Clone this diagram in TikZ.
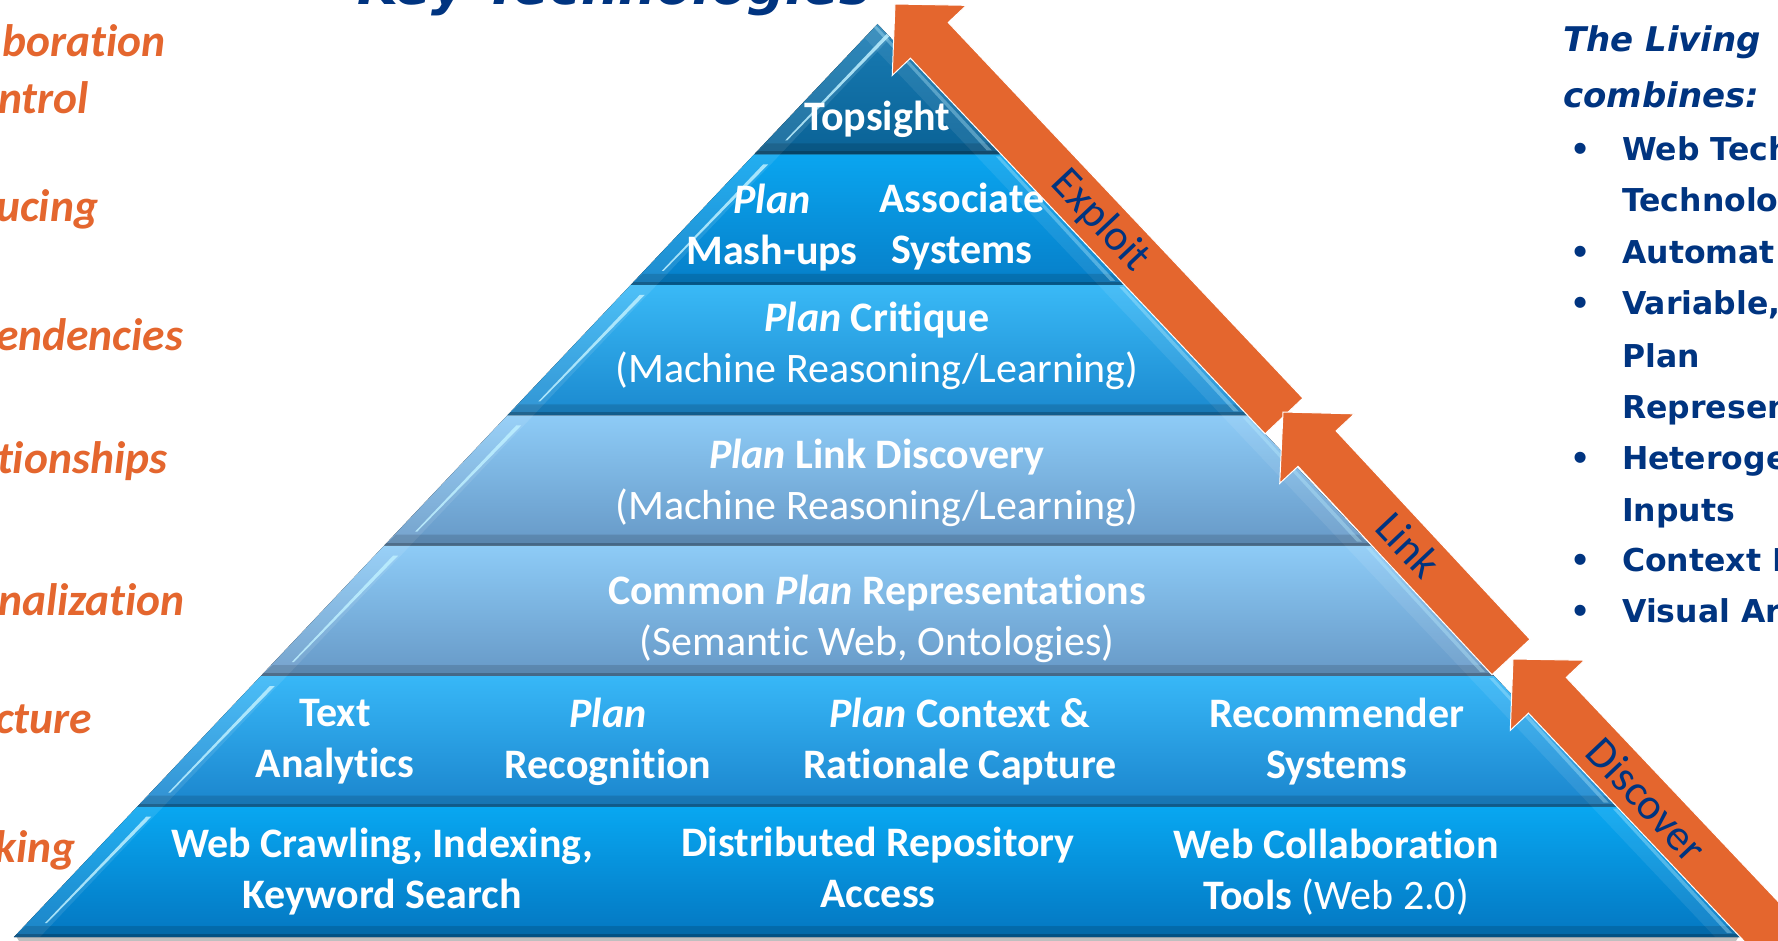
\documentclass[tikz,border=0pt]{standalone}
\usepackage{fontspec}
\setmainfont{Carlito}[Ligatures=NoCommon]
\newfontfamily\dvs{DejaVu Sans}[BoldFont={DejaVu Sans Bold},ItalicFont={DejaVu Sans Oblique},BoldItalicFont={DejaVu Sans Bold Oblique}]
\usetikzlibrary{calc}
\definecolor{orng}{RGB}{228,102,46}
\definecolor{navy}{RGB}{0,52,128}
\definecolor{hicyan}{RGB}{190,240,255}
\definecolor{cA}{RGB}{24,124,180}\definecolor{cAb}{RGB}{10,98,150}
\definecolor{cB}{RGB}{10,166,240}\definecolor{cBb}{RGB}{6,126,200}
\definecolor{cC}{RGB}{58,186,247}\definecolor{cCb}{RGB}{26,136,206}
\definecolor{cD}{RGB}{142,204,247}\definecolor{cDb}{RGB}{102,152,198}
\definecolor{cE}{RGB}{142,204,247}\definecolor{cEb}{RGB}{102,152,198}
\definecolor{cF}{RGB}{56,184,248}\definecolor{cFb}{RGB}{26,132,204}
\definecolor{cG}{RGB}{8,168,242}\definecolor{cGb}{RGB}{4,118,192}
\tikzset{
  orarrow/.style={fill=orng,draw=white,line width=1pt},
  ptext/.style={text=white,font=\fontsize{42}{51}\selectfont\bfseries,align=center,inner sep=0pt},
  atext/.style={text=navy,font=\fontsize{44}{50}\selectfont,rotate=-46.6,inner sep=0pt},
  ltext/.style={text=orng,font=\fontsize{45.5}{54}\selectfont\bfseries\itshape,anchor=base west,inner sep=0pt},
  rtext/.style={text=navy,font=\dvs\fontsize{31.5}{36}\selectfont\bfseries,anchor=base west,inner sep=0pt},
  rhead/.style={text=navy,font=\dvs\fontsize{34}{40}\selectfont\bfseries\itshape,anchor=base west,inner sep=0pt},
  ttext/.style={text=navy,font=\dvs\fontsize{53}{60}\selectfont\bfseries\itshape,anchor=base west,inner sep=0pt},
}
\newcommand\pyrband[3]{%
  \pgfmathsetmacro\yt{24+130.4286*#1}%
  \pgfmathsetmacro\yb{\yt+130.4286}%
  \pgfmathsetmacro\lt{877.5-0.9458*(\yt-24)}%
  \pgfmathsetmacro\rt{877.5+0.9458*(\yt-24)}%
  \pgfmathsetmacro\lb{877.5-0.9458*(\yb-24)}%
  \pgfmathsetmacro\rb{877.5+0.9458*(\yb-24)}%
  \begin{scope}
    \clip (\lt,\yt) -- (\rt,\yt) -- (\rb,\yb) -- (\lb,\yb) -- cycle;
    \fill[top color=#2,bottom color=#3] (\lt-2,\yt-2) -- (\rt+2,\yt-2) -- (\rb+2,\yb+2) -- (\lb-2,\yb+2) -- cycle;
    \fill[white,opacity=.10] (\lt,\yt) -- (\lt+26,\yt) -- (\lb+26,\yb) -- (\lb,\yb) -- cycle;
    \fill[white,opacity=.08] (\rt,\yt) -- (\rt-26,\yt) -- (\rb-26,\yb) -- (\rb,\yb) -- cycle;
    \fill[black,opacity=.13] (\lb+12,\yb-11) -- (\rb-12,\yb-11) -- (\rb,\yb) -- (\lb,\yb) -- cycle;
    \fill[black,opacity=.22] (\lb,\yb-3) -- (\rb,\yb-3) -- (\rb,\yb) -- (\lb,\yb) -- cycle;
    \fill[hicyan,opacity=.85] (\lb+31,\yb-14) -- (\lt+9,\yt+10) -- (\lt+14,\yt+10) -- (\lb+33,\yb-14) -- cycle;
    \fill[hicyan,opacity=.35] (\rb-9,\yb-4) -- (\rt-1,\yt+2) -- (\rt-5,\yt+2) -- (\rb-14,\yb-4) -- cycle;
  \end{scope}
}
\newcommand\orarrow[3]{%
  \coordinate (#1tip) at #2;
  \coordinate (#1tail) at #3;
  \coordinate (#1m) at ($(#1tip)!50pt!(#1tail)$);
  \filldraw[orarrow] (#1tip) -- ($(#1m)!51pt!90:(#1tail)$) -- ($(#1m)!26pt!90:(#1tail)$)
    -- ($(#1tail)!26pt!-90:(#1tip)$) -- ($(#1tail)!26pt!90:(#1tip)$)
    -- ($(#1m)!26pt!-90:(#1tail)$) -- ($(#1m)!51pt!-90:(#1tail)$) -- cycle;
}
\begin{document}
\begin{tikzpicture}[x=1pt,y=-1pt]
\useasboundingbox (0,0) rectangle (1778,941);
\clip (0,0) rectangle (1778,941);
\fill[white] (0,0) rectangle (1778,941);

% title (cut at top)
\node[ttext] (title) at (357,5) {Key Technologies};

% left orange texts (cut at left)
\node[ltext] (l1) at (2,57) {boration};
\node[ltext] (l2) at (-2,114) {ntrol};
\node[ltext] (l3) at (-4,222) {ucing};
\node[ltext] (l4) at (-4,350) {endencies};
\node[ltext] (l5) at (-3,473) {tionships};
\node[ltext] (l6) at (-2,615) {nalization};
\node[ltext] (l7) at (-5,733) {cture};
\node[ltext] (l8) at (-6,862) {king};

% right texts (cut at right)
\node[rhead] (h1) at (1563,52) {The Living};
\node[rhead] (h2) at (1563,108) {combines:};
\foreach \b/\t/\yy in {1/{Web Tech}/161,0/{Technolo}/212,1/{Automat}/264,1/{Variable,}/315,0/{Plan}/367,0/{Represen}/418,1/{Heteroge}/469,0/{Inputs}/521,1/{Context E}/571,1/{Visual Ar}/622}{
  \ifnum\b=1 \node[rtext] (bul\yy) at (1570,\yy) {•};\fi
  \node[rtext] (r\yy) at (1622,\yy) {\t};
}

% pyramid shadow
\fill[black,opacity=.25] (16,936) -- (1739,936) -- (1736,941) -- (19,941) -- cycle;

% pyramid bands
\pyrband{0}{cA}{cAb}
\pyrband{1}{cB}{cBb}
\pyrband{2}{cC}{cCb}
\pyrband{3}{cD}{cDb}
\pyrband{4}{cE}{cEb}
\pyrband{5}{cF}{cFb}
\pyrband{6}{cG}{cGb}

% pyramid texts
\node[ptext] (topsight) at (877,119) {Topsight};
\node[ptext] (mashups) at (772,228) {\textit{Plan}\\Mash-ups};
\node[ptext] (assoc) at (962,227) {Associate\\Systems};
\node[ptext] (critique) at (877,346) {\textit{Plan} Critique\\{\mdseries(Machine Reasoning/Learning)}};
\node[ptext] (linkdisc) at (877,483) {\textit{Plan} Link Discovery\\{\mdseries(Machine Reasoning/Learning)}};
\node[ptext] (common) at (877,619) {Common \textit{Plan} Representations\\{\mdseries(Semantic Web, Ontologies)}};
\node[ptext] (textan) at (335,742) {Text\\Analytics};
\node[ptext] (planrec) at (608,742) {\textit{Plan}\\Recognition};
\node[ptext] (context) at (960,742) {\textit{Plan} Context \&\\Rationale Capture};
\node[ptext] (recomm) at (1337,742) {Recommender\\Systems};
\node[ptext] (crawl) at (382,872) {Web Crawling, Indexing,\\Keyword Search};
\node[ptext] (distrib) at (878,867) {Distributed Repository\\Access};
\node[ptext] (collab) at (1336,872) {Web Collaboration\\Tools {\mdseries(Web 2.0)}};

% arrows
\orarrow{ex}{(895,4)}{(1284,416)}
\orarrow{lk}{(1283,412)}{(1511,657)}
\orarrow{ds}{(1513,659)}{(1810,973)}

\node[atext] (exploit) at (1100,221) {Exploit};
\node[atext] (link) at (1409,545) {Link};
\node[atext] (discover) at (1647,800) {Discover};
\end{tikzpicture}
\end{document}
